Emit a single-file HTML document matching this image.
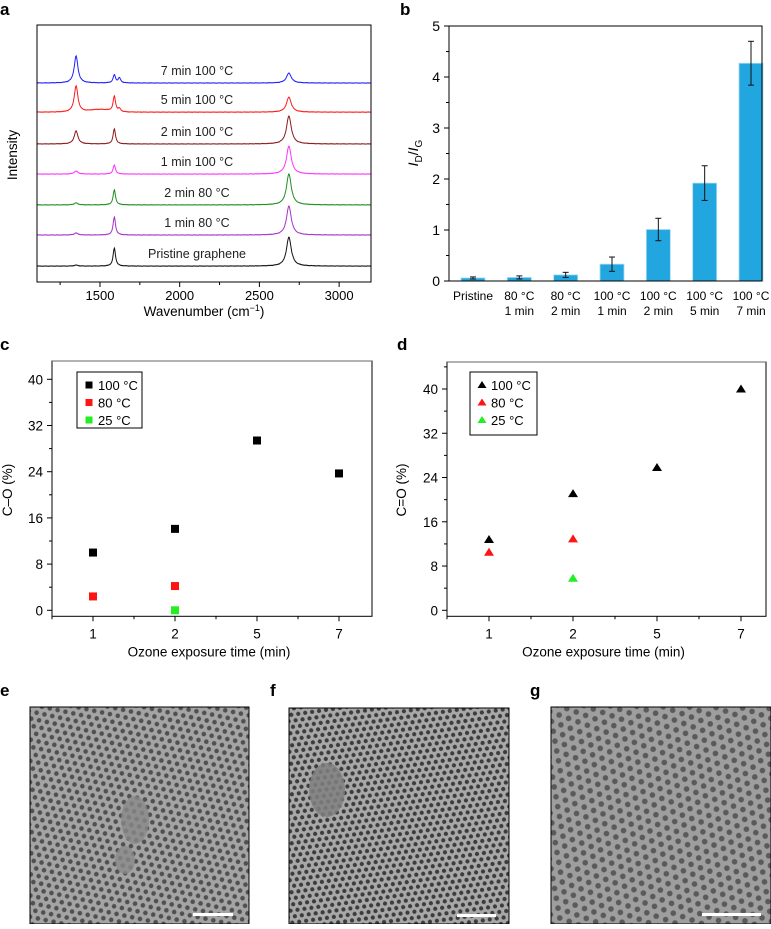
<!DOCTYPE html>
<html><head><meta charset="utf-8">
<style>
body{margin:0;background:#fff;font-family:"Liberation Sans",sans-serif;}
svg text{font-family:"Liberation Sans",sans-serif;}
</style></head>
<body>
<svg id="fig" width="771" height="924" viewBox="0 0 771 924" xmlns="http://www.w3.org/2000/svg">
<defs>
<pattern id="hexA" width="8" height="13.86" patternUnits="userSpaceOnUse" patternTransform="rotate(12)">
<rect width="8" height="13.86" fill="#a4a4a4"/>
<circle cx="4" cy="3.46" r="2.3" fill="#505050"/><circle cx="0" cy="10.4" r="2.3" fill="#505050"/><circle cx="8" cy="10.4" r="2.3" fill="#505050"/>
</pattern>
<pattern id="hexB" width="7" height="12.12" patternUnits="userSpaceOnUse" patternTransform="rotate(-8)">
<rect width="7" height="12.12" fill="#a8a8a8"/>
<circle cx="3.5" cy="3" r="2.1" fill="#3c3c3c"/><circle cx="0" cy="9.06" r="2.1" fill="#3c3c3c"/><circle cx="7" cy="9.06" r="2.1" fill="#3c3c3c"/>
</pattern>
<pattern id="hexC" width="10" height="17.32" patternUnits="userSpaceOnUse" patternTransform="rotate(20)">
<rect width="10" height="17.32" fill="#9e9e9e"/>
<circle cx="5" cy="4.33" r="2.8" fill="#5a5a5a"/><circle cx="0" cy="12.99" r="2.8" fill="#5a5a5a"/><circle cx="10" cy="12.99" r="2.8" fill="#5a5a5a"/>
</pattern>
</defs>
<g id="pa"></g><g id="pb"></g><g id="pc"></g><g id="pd"></g>
<g id="pe">
<text x="0" y="696" font-size="17" font-weight="bold">e</text>
<rect x="30" y="707" width="219" height="217" fill="url(#hexA)" stroke="#000"/>
<ellipse cx="135" cy="820" rx="14" ry="24" fill="#888" opacity="0.8"/>
<ellipse cx="125" cy="860" rx="10" ry="14" fill="#8a8a8a" opacity="0.8"/>
<rect x="193" y="913" width="40" height="3" fill="#fff"/>
<text x="270" y="696" font-size="17" font-weight="bold">f</text>
<rect x="289" y="708" width="220" height="216" fill="url(#hexB)" stroke="#000"/>
<ellipse cx="327" cy="790" rx="18" ry="27" fill="#808080" opacity="0.85"/>
<rect x="457" y="914" width="39" height="3" fill="#fff"/>
<text x="530" y="696" font-size="17" font-weight="bold">g</text>
<rect x="551" y="707" width="220" height="217" fill="url(#hexC)" stroke="#000"/>
<rect x="702" y="913" width="59" height="3" fill="#fff"/>
</g>
</svg>
<script>
var NS="http://www.w3.org/2000/svg";
function mk(p,tag,at,txt){var e=document.createElementNS(NS,tag);for(var k in at)e.setAttribute(k,at[k]);if(txt!==undefined)e.appendChild(document.createTextNode(txt));p.appendChild(e);return e;}

/* ---------- Panel a data ---------- */
var aLabels=["7 min 100 °C","5 min 100 °C","2 min 100 °C","1 min 100 °C","2 min 80 °C","1 min 80 °C","Pristine graphene"];
var aColors=["#1f1fff","#ff1a1a","#8b1a1a","#ff33ff","#1f8f1f","#a633cc","#111111"];
var aOffsets=[8.13,6.94,5.64,4.41,3.15,1.92,0.65];
var aD=[2.7,2.6,1.3,0.3,0.2,0.2,0.1];
var aG=[0.8,1.5,1.5,0.9,1.5,1.8,1.8];
var aDp=[0.5,0.3,0,0,0,0,0];
var a2D=[1.0,1.5,2.8,2.8,3.1,2.9,2.9];
var aTicks=[1500,2000,2500,3000];

/* ---------- Panel b data ---------- */
var bCats1=["Pristine","80 °C","80 °C","100 °C","100 °C","100 °C","100 °C"];
var bCats2=["","1 min","2 min","1 min","2 min","5 min","7 min"];
var bVals=[0.06,0.07,0.12,0.33,1.01,1.92,4.27];
var bErr=[0.02,0.03,0.05,0.14,0.22,0.34,0.43];
var bTicks=[0,1,2,3,4,5];

/* ---------- Panel c/d data ---------- */
var timeCats=["1","2","5","7"];
var cO100=[10.0,14.1,29.4,23.7];
var cO80=[2.4,4.2];
var cO25=[0.0];
var dO100=[12.8,21.1,25.8,40.0];
var dO80=[10.5,12.9];
var dO25=[5.8];
var cdTicks=[0,8,16,24,32,40];

function tsp(parent,at,txt){return mk(parent,'tspan',at,txt);}

/* ---------- Panel a ---------- */
try{(function(){
var g=document.getElementById('pa');
mk(g,'text',{x:0,y:15,'font-size':17,'font-weight':'bold',},'a');
var L=37,R=371,T=25,B=282;
function xs(v){return L+(v-1105)/(3200-1105)*(R-L);}
function ys(v){return B-(v/10.5)*(B-T);}
function lor(x,c,w){var q=(x-c)/w;return 1/(1+q*q);}
for(var i=0;i<aLabels.length;i++){
  var d="";
  for(var w=1105;w<=3200;w+=3){
    var v=aD[i]*lor(w,1350,14)+aG[i]*lor(w,1590,9)+aDp[i]*lor(w,1622,9)+a2D[i]*lor(w,2685,18);
    if(i==1)v+=0.25*Math.exp(-Math.pow((w-1500)/90,2));
    var n=((w*7919)%13)/13-0.5;
    v+=n*0.05;
    d+=(d?"L":"M")+xs(w).toFixed(1)+","+ys(aOffsets[i]+v*0.41).toFixed(1);
  }
  var p=mk(g,'path',{d:d,fill:'none',stroke:aColors[i],'stroke-width':1});
  
  
  var t=mk(g,'text',{x:197,y:ys(aOffsets[i])-8,'font-size':12.5,'text-anchor':'middle',fill:'#222'},aLabels[i]);
  
  
}
var fr=mk(g,'rect',{x:L,y:T,width:R-L,height:B-T,fill:'none',stroke:'#000','stroke-width':1});


for(var v2=1250;v2<=3200;v2+=250){mk(g,'line',{x1:xs(v2),x2:xs(v2),y1:B,y2:B+(v2%500?3:5),stroke:'#000'});}
aTicks.forEach(function(v){var t=mk(g,'text',{x:xs(v),y:B+18,'font-size':13,'text-anchor':'middle'},String(v));
 
 });
var xt=mk(g,'text',{x:204,y:316,'font-size':13.5,'text-anchor':'middle'});
tsp(xt,{},'Wavenumber (cm');tsp(xt,{dy:-5,'font-size':9},'−1');tsp(xt,{dy:5},')');


var yt=mk(g,'text',{x:0,y:0,'font-size':13.5,'text-anchor':'middle',transform:'translate(17,155) rotate(-90)'},'Intensity');


})();}catch(e){console.log(e);}

/* ---------- Panel b ---------- */
try{(function(){
var g=document.getElementById('pb');
mk(g,'text',{x:400,y:15,'font-size':17,'font-weight':'bold',},'b');
var L=449,R=762,T=26,B=281;
function ys(v){return B-v/5*(B-T);}
function xc(i){return 473+i*(751-473)/6;}
bVals.forEach(function(v,i){
  var r=mk(g,'rect',{x:xc(i)-12,y:ys(v),width:24,height:B-ys(v),fill:'#22a6e0',stroke:'#a9dcf3','stroke-width':0.8});
  
  
  var e=bErr[i],y1=ys(v+e),y2=ys(v-e);
  mk(g,'line',{x1:xc(i),x2:xc(i),y1:y1,y2:y2,stroke:'#111'});
  mk(g,'line',{x1:xc(i)-3,x2:xc(i)+3,y1:y1,y2:y1,stroke:'#111'});
  mk(g,'line',{x1:xc(i)-3,x2:xc(i)+3,y1:y2,y2:y2,stroke:'#111'});
  var t1=mk(g,'text',{x:xc(i),y:300,'font-size':12,'text-anchor':'middle'},bCats1[i]);
  
  
  var t2=mk(g,'text',{x:xc(i),y:315,'font-size':12,'text-anchor':'middle'},bCats2[i]);
  
  
});
var fr=mk(g,'rect',{x:L,y:T,width:R-L,height:B-T,fill:'none',stroke:'#000'});


for(var v=0;v<=5;v+=0.5)mk(g,'line',{x1:L,x2:L-(v%1?3:5),y1:ys(v),y2:ys(v),stroke:'#000'});
bTicks.forEach(function(v){var t=mk(g,'text',{x:L-9,y:ys(v)+5,'font-size':14,'text-anchor':'end'},String(v));
 
 });
var yt=mk(g,'text',{x:0,y:0,'font-size':14,'text-anchor':'middle',transform:'translate(418,153) rotate(-90)'});
tsp(yt,{'font-style':'italic'},'I');tsp(yt,{dy:4,'font-size':10},'D');tsp(yt,{dy:-4},'/');
tsp(yt,{'font-style':'italic'},'I');tsp(yt,{dy:4,'font-size':10},'G');


})();}catch(e){console.log(e);}

/* ---------- Panels c, d ---------- */
function scatter(gid,lbl,lx,L,R,T,y0,y40,xc,s100,s80,s25,marker,ytitle,ytx,leg){
var g=document.getElementById(gid);
mk(g,'text',{x:lx,y:350,'font-size':17,'font-weight':'bold',},lbl);
var B=y0+6;
function ys(v){return y0-v/40*(y0-y40);}
function xs(i){return xc[0]+i*(xc[1]-xc[0]);}
function mark(i,v,col,nm){
  var x=xs(i),y=ys(v),e;
  if(marker==='sq')e=mk(g,'rect',{x:x-4,y:y-4,width:8,height:8,fill:col});
  else e=mk(g,'path',{d:'M'+x+','+(y-4.5)+'L'+(x+5)+','+(y+3.5)+'L'+(x-5)+','+(y+3.5)+'Z',fill:col});
  
  
}
s100.forEach(function(v,i){mark(i,v,'#000','series-100c');});
s80.forEach(function(v,i){mark(i,v,'#ff1414','series-80c');});
s25.forEach(function(v,i){mark(i+1,v,'#22ee22','series-25c');});
var fr=mk(g,'rect',{x:L,y:T,width:R-L,height:B-T,fill:'none',stroke:'#000'});


mk(g,'line',{x1:L,x2:R,y1:T,y2:T,stroke:'#666'});
for(var v=0;v<=44;v+=4)if(ys(v)>T)mk(g,'line',{x1:L,x2:L-(v%8?3:5),y1:ys(v),y2:ys(v),stroke:'#000'});
cdTicks.forEach(function(v){var t=mk(g,'text',{x:L-9,y:ys(v)+5,'font-size':13.5,'text-anchor':'end'},String(v));
 
 });
for(var k=-0.5;k<=3.5;k+=0.5)if(xs(k)>=L&&xs(k)<=R)mk(g,'line',{x1:xs(k),x2:xs(k),y1:B,y2:B+(k%1?3:5),stroke:'#000'});
timeCats.forEach(function(c,i){var t=mk(g,'text',{x:xs(i),y:B+22,'font-size':13.5,'text-anchor':'middle'},c);
 
 });
var xt=mk(g,'text',{x:(L+R)/2-3,y:B+40,'font-size':13.5,'text-anchor':'middle'},'Ozone exposure time (min)');


var yt=mk(g,'text',{x:0,y:0,'font-size':13.5,'text-anchor':'middle',transform:'translate('+ytx+',490) rotate(-90)'},ytitle);


var lg=mk(g,'g',{});


mk(lg,'rect',{x:leg[0],y:leg[1],width:leg[2],height:leg[3],fill:'#fff',stroke:'#000'});
var ents=[['100 °C','#000'],['80 °C','#ff1414'],['25 °C','#22ee22']];
ents.forEach(function(e,k){
  var y=leg[1]+13+k*17.5,x=leg[0]+12;
  if(marker==='sq')mk(lg,'rect',{x:x-3.5,y:y-3.5,width:7,height:7,fill:e[1]});
  else mk(lg,'path',{d:'M'+x+','+(y-4)+'L'+(x+4.5)+','+(y+3)+'L'+(x-4.5)+','+(y+3)+'Z',fill:e[1]});
  var t=mk(lg,'text',{x:x+9,y:y+5,'font-size':13},e[0]);
  
  
});
}
try{scatter('pc','c',0,52,372,361,610.3,379.3,[93,175],cO100,cO80,cO25,'sq','C–O (%)',12,[77,372,65,56]);}catch(e){console.log(e);}
try{scatter('pd','d',397,447,766,362,610.3,389,[489,573],dO100,dO80,dO25,'tri','C=O (%)',406,[470,372,67,63]);}catch(e){console.log(e);}
</script>
</body></html>
